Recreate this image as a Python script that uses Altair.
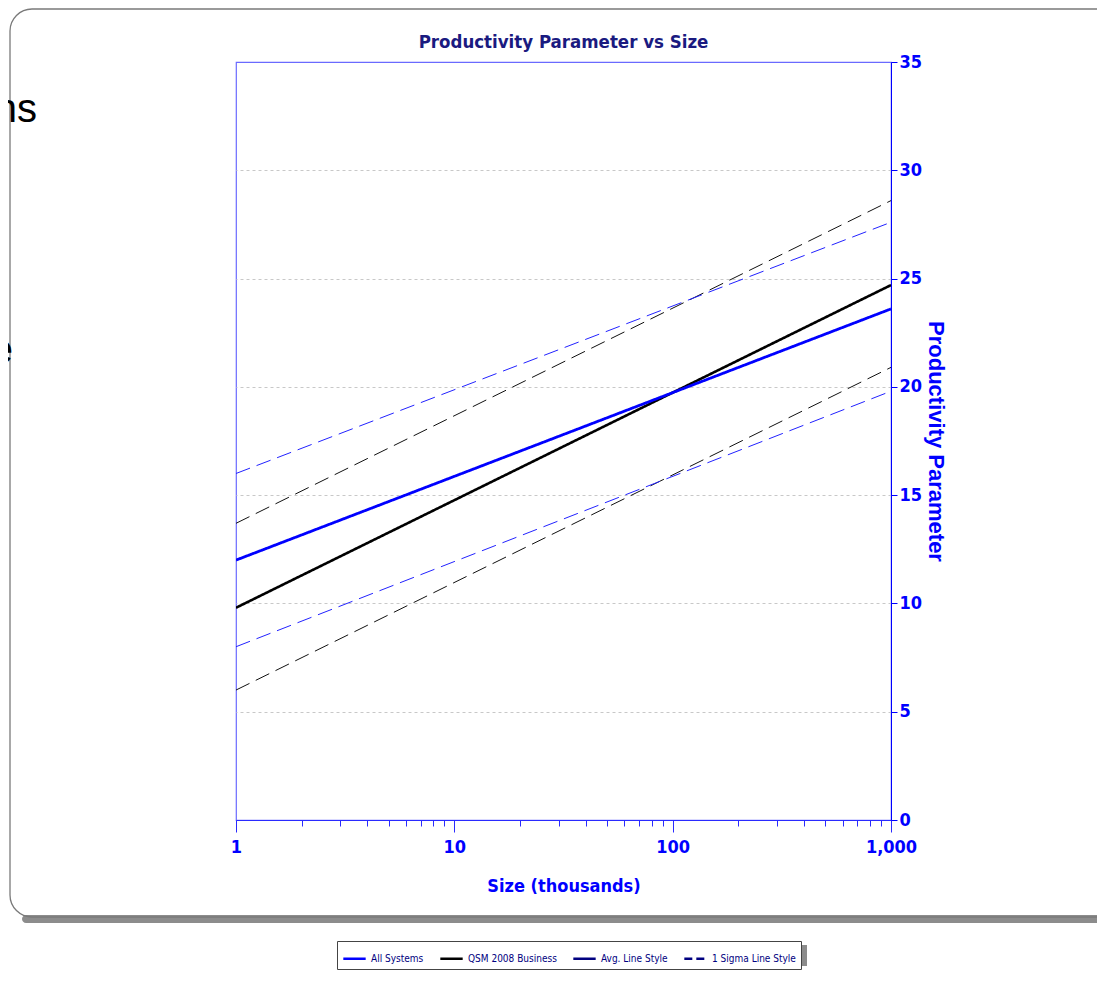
import altair as alt
import pandas as pd

# ---- data ----
size_x = [1, 1000]
qsm_avg = [9.8, 24.7]
qsm_plus = [13.7, 28.6]
qsm_minus = [6.0, 20.9]
all_avg = [12.0, 23.6]
all_plus = [16.0, 27.6]
all_minus = [8.0, 19.8]

series_names = ["QSM Avg", "QSM +1 Sigma", "QSM -1 Sigma",
                "All Avg", "All +1 Sigma", "All -1 Sigma"]
series_vals = [qsm_avg, qsm_plus, qsm_minus, all_avg, all_plus, all_minus]
series_colors = ["#000000", "#111111", "#111111", "#0000ff", "#2222ff", "#2222ff"]
series_dash = [[1, 0], [15, 7], [15, 7], [1, 0], [15, 7], [15, 7]]
series_width = [2.6, 1, 1, 2.8, 1, 1]

legend_items = ["All Systems", "QSM 2008 Business", "Avg. Line Style", "1 Sigma Line Style"]
legend_colors = ["#0000ff", "#000000", "#000080", "#000080"]
legend_dash = [[1, 0], [1, 0], [1, 0], [8, 4]]

x_ticks = [1, 2, 3, 4, 5, 6, 7, 8, 9, 10, 20, 30, 40, 50, 60, 70, 80, 90,
           100, 200, 300, 400, 500, 600, 700, 800, 900, 1000]
y_ticks = [0, 5, 10, 15, 20, 25, 30, 35]

rows = []
for name, vals in zip(series_names, series_vals):
    for xv, yv in zip(size_x, vals):
        rows.append({"series": name, "size": xv, "value": yv})
df = pd.DataFrame(rows)
leg_df = pd.DataFrame({"item": legend_items, "size": [1] * 4, "value": [0] * 4})
one = pd.DataFrame({"a": [0]})

W, H = 655, 758
NARROW = "Liberation Sans Narrow, Arial Narrow, DejaVu Sans Condensed, sans-serif"
SANS = "Liberation Sans, Arial, sans-serif"
is_major = "abs(log(datum.value)/LN10 - round(log(datum.value)/LN10)) < 0.001"

x_enc = alt.X("size:Q", scale=alt.Scale(type="log", domain=[1, 1000]),
              axis=alt.Axis(values=x_ticks, title="Size (thousands)",
                            labelExpr=f"{is_major} ? format(datum.value, ',') : ''",
                            tickSize={"condition": {"test": is_major, "value": 12}, "value": 6},
                            grid=False, domainColor="#2a2aff", tickColor="#2a2aff",
                            labelColor="#0000ff", labelFont=NARROW, labelFontSize=18,
                            labelFontWeight="bold", labelPadding=6, labelFlush=False,
                            titleColor="#0000ff", titleFont=NARROW, titleFontSize=18,
                            titleFontWeight="bold", titlePadding=21))
y_enc = alt.Y("value:Q", scale=alt.Scale(domain=[0, 35], nice=False),
              axis=alt.Axis(orient="right", values=y_ticks, title="Productivity Parameter",
                            grid=True, gridColor="#c8c8c8", gridDash=[3, 3],
                            gridOpacity={"condition": {"test": "datum.value == 0 || datum.value == 35",
                                                       "value": 0}, "value": 1},
                            domainColor="#0000ff", tickColor="#0000ff", tickSize=6,
                            labelColor="#0000ff", labelFont=NARROW, labelFontSize=18,
                            labelFontWeight="bold", labelPadding=2,
                            titleColor="#0000ff", titleFont=SANS, titleFontSize=22,
                            titleFontWeight="bold", titlePadding=2))

shadow = alt.Chart(one).mark_rect(cornerRadius=4, fill="#8c8c8c").encode(
    x=alt.value(-214), x2=alt.value(950), y=alt.value(853), y2=alt.value(861))
frame = alt.Chart(one).mark_rect(cornerRadius=22, fill="transparent", stroke="#7a7a7a",
                                 strokeWidth=1.3).encode(
    x=alt.value(-226), x2=alt.value(950), y=alt.value(-53), y2=alt.value(855))
txt_ns = alt.Chart(one).mark_text(text="ns", font=SANS, fontSize=40, align="right",
                                  baseline="alphabetic", color="black").encode(
    x=alt.value(-199), y=alt.value(60))
txt_e = alt.Chart(one).mark_text(text="e", font=SANS, fontSize=40, align="right",
                                 baseline="alphabetic", color="black").encode(
    x=alt.value(-223), y=alt.value(301))

lines = alt.Chart(df).mark_line(clip=True).encode(
    x=x_enc, y=y_enc,
    color=alt.Color("series:N", scale=alt.Scale(domain=series_names, range=series_colors), legend=None),
    strokeDash=alt.StrokeDash("series:N", scale=alt.Scale(domain=series_names, range=series_dash), legend=None),
    strokeWidth=alt.StrokeWidth("series:N", scale=alt.Scale(type="ordinal", domain=series_names,
                                                             range=series_width), legend=None),
)

leg_shadow = alt.Chart(one).mark_rect(fill="#8c8c8c").encode(
    x=alt.value(105), x2=alt.value(571), y=alt.value(883), y2=alt.value(904))
legend_layer = alt.Chart(leg_df).mark_line(strokeWidth=2.5).encode(
    x="size:Q", y="value:Q",
    color=alt.Color("item:N", scale=alt.Scale(domain=legend_items, range=legend_colors),
                    legend=alt.Legend(title=None, orient="none", legendX=101, legendY=879,
                                      direction="horizontal", symbolType="stroke",
                                      symbolSize=500, symbolStrokeWidth=2.5,
                                      labelFont=NARROW, labelFontSize=10, labelColor="#000080",
                                      columnPadding=11, padding=5, strokeColor="#444444",
                                      fillColor="white", labelLimit=200)),
    strokeDash=alt.StrokeDash("item:N", scale=alt.Scale(domain=legend_items, range=legend_dash),
                              legend=None),
)

chart = alt.layer(shadow, frame, txt_ns, txt_e, lines, leg_shadow, legend_layer).resolve_scale(
    color="independent", strokeDash="independent"
).properties(
    width=W, height=H,
    title=alt.TitleParams("Productivity Parameter vs Size", color="#1a1a80", font=NARROW,
                          fontSize=18.5, fontWeight="bold", offset=14, anchor="middle",
                          frame="group", baseline="alphabetic", dy=72),
    autosize=alt.AutoSizeParams(type="none"),
    padding={"left": 228, "top": 54, "right": 206, "bottom": 150},
    background="white",
).configure_view(stroke="#6a6aff", strokeWidth=1.2)

chart.save("out.html", embed_options={"renderer": "svg", "actions": False})
